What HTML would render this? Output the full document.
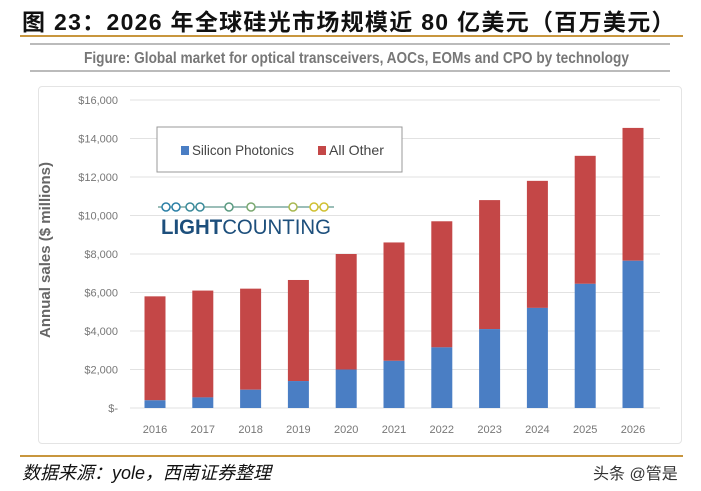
<!DOCTYPE html>
<html><head><meta charset="utf-8"><style>
body{margin:0;width:701px;height:491px;background:#fff;overflow:hidden;position:relative;font-family:"Liberation Sans","Noto Sans CJK SC",sans-serif}
.abs{position:absolute}
</style></head><body>
<div class="abs" style="left:22px;top:3px;font-size:23px;letter-spacing:1.3px;font-weight:bold;color:#111;font-family:'Liberation Sans','Noto Sans CJK SC',sans-serif;white-space:nowrap">图 23：2026 年全球硅光市场规模近 80 亿美元（百万美元）</div>
<div class="abs" style="left:20px;top:35px;width:663px;height:2px;background:#c8963e"></div>
<div class="abs" style="left:30px;top:43px;width:640px;height:2px;background:#bbb"></div>
<div class="abs" style="left:30px;top:70px;width:640px;height:2px;background:#bbb"></div>
<div class="abs" style="left:38px;top:86px;width:642px;height:356px;border:1px solid #e4e4e4;border-radius:4px"></div>
<svg class="abs" style="left:0;top:0" width="701" height="491">
<text x="84" y="63" textLength="545" lengthAdjust="spacingAndGlyphs" font-size="16" font-weight="bold" fill="#777">Figure: Global market for optical transceivers, AOCs, EOMs and CPO by technology</text>
<g id="grid"></g><g id="bars"></g><g id="labels"></g>
<text x="50" y="250" transform="rotate(-90 50 250)" text-anchor="middle" font-size="15" font-weight="bold" fill="#666">Annual sales ($ millions)</text>
<rect x="157" y="127" width="245" height="45" fill="#fff" stroke="#999"/>
<rect x="181" y="146" width="8" height="9" fill="#4a7ec4"/>
<text x="192" y="155" font-size="14" fill="#444" textLength="102" lengthAdjust="spacingAndGlyphs">Silicon Photonics</text>
<rect x="318" y="146" width="8" height="9" fill="#c44747"/>
<text x="329" y="155" font-size="14" fill="#444" textLength="55" lengthAdjust="spacingAndGlyphs">All Other</text>
<g>
<line x1="158" y1="207" x2="334" y2="207" stroke="#7aa8a0" stroke-width="1.5"/>
<g fill="#fff" stroke-width="1.5">
<circle cx="166" cy="207" r="4" stroke="#2a7fa6"/><circle cx="176" cy="207" r="4" stroke="#2a7fa6"/><circle cx="190" cy="207" r="4" stroke="#3a8a9a"/><circle cx="200" cy="207" r="4" stroke="#3a8a9a"/><circle cx="229" cy="207" r="4" stroke="#5a9a80"/><circle cx="251" cy="207" r="4" stroke="#7aa870"/><circle cx="293" cy="207" r="4" stroke="#a8b850"/><circle cx="314" cy="207" r="4" stroke="#d0c030"/><circle cx="324" cy="207" r="4" stroke="#d0c030"/></g>
<text x="161" y="234" font-size="21" fill="#1d4f7c" textLength="170" lengthAdjust="spacingAndGlyphs"><tspan font-weight="bold">LIGHT</tspan>COUNTING</text></g>
</svg>
<div class="abs" style="left:20px;top:455px;width:663px;height:2px;background:#c8963e"></div>
<div class="abs" style="left:22px;top:459px;font-size:18px;font-style:italic;color:#111">数据来源：yole，西南证券整理</div>
<div class="abs" style="left:593px;top:460px;font-size:16px;color:#333">头条 @管是</div>
<script>
const years=["2016","2017","2018","2019","2020","2021","2022","2023","2024","2025","2026"];
const silicon=[400,550,950,1400,2000,2450,3150,4100,5200,6450,7650];
const total=[5800,6100,6200,6650,8000,8600,9700,10800,11800,13100,14550];
const ticks=[0,2000,4000,6000,8000,10000,12000,14000,16000];
const tickLabels=["$-","$2,000","$4,000","$6,000","$8,000","$10,000","$12,000","$14,000","$16,000"];
const NS="http://www.w3.org/2000/svg";
const y=v=>408-v*(308/16000);
const x=i=>155+i*47.8;
const g=document.getElementById('grid'),b=document.getElementById('bars'),l=document.getElementById('labels');
function mk(tag,a,p){const e=document.createElementNS(NS,tag);for(const k in a)e.setAttribute(k,a[k]);p.appendChild(e);return e;}
ticks.forEach((t,i)=>{
 const ln=mk('line',{x1:130,x2:660,y1:y(t),y2:y(t),stroke:'#e2e2e2','stroke-width':1},g);
 
 
 const tx=mk('text',{x:118,y:y(t)+4,'text-anchor':'end','font-size':11,fill:'#777'},l);
 tx.textContent=tickLabels[i];
 
 
});
years.forEach((yr,i)=>{
 const o=mk('rect',{x:x(i)-10.5,width:21,y:y(total[i]),height:y(silicon[i])-y(total[i]),fill:'#c44747'},b);
 
 
 const s=mk('rect',{x:x(i)-10.5,width:21,y:y(silicon[i]),height:408-y(silicon[i]),fill:'#4a7ec4'},b);
 
 
 const t=mk('text',{x:x(i),y:433,'text-anchor':'middle','font-size':11,fill:'#777'},l);
 t.textContent=yr;
 
 
});
</script>
</body></html>
